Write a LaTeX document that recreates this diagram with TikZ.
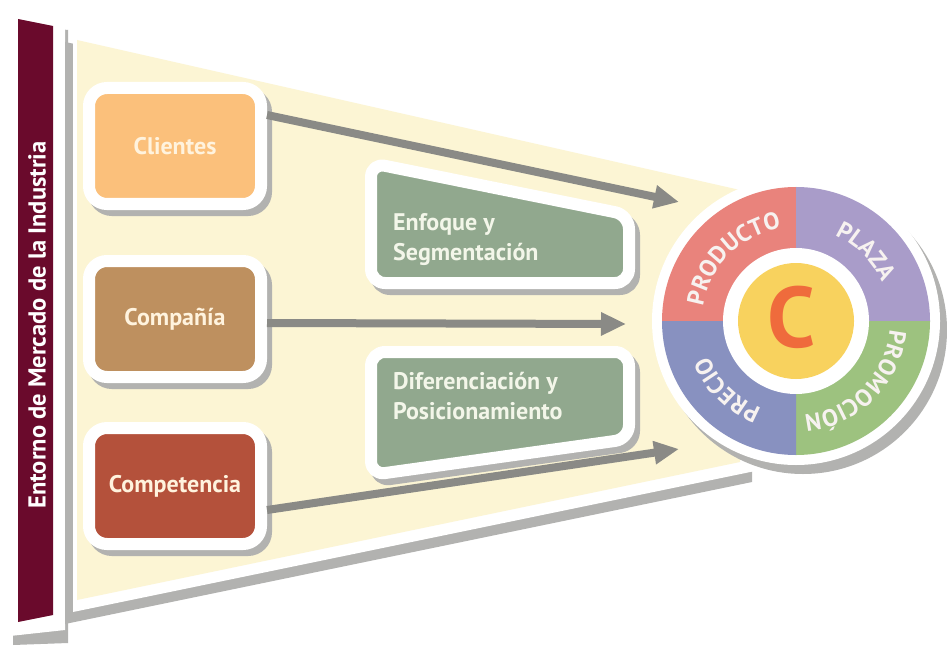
\documentclass[tikz,border=0pt]{standalone}
\usepackage{fontspec}
\setmainfont{PT Sans}
\usetikzlibrary{arrows.meta,shadows,decorations.text}
\definecolor{cMaroon}{HTML}{6A0A2C}
\definecolor{cShadow}{HTML}{B2B2B0}
\definecolor{cCream}{HTML}{FCF5D4}
\definecolor{cArrow}{HTML}{8A8A86}
\definecolor{cOrange}{HTML}{FBC07B}
\definecolor{cTan}{HTML}{BE905F}
\definecolor{cBrick}{HTML}{B4513B}
\definecolor{cBoxText}{HTML}{FFF3DE}
\definecolor{cGreen}{HTML}{91A88E}
\definecolor{cGreenText}{HTML}{F3F6E9}
\definecolor{cRed}{HTML}{E9837C}
\definecolor{cLav}{HTML}{A99CC9}
\definecolor{cLime}{HTML}{9DC27F}
\definecolor{cBlue}{HTML}{8891C0}
\definecolor{cYel}{HTML}{F8D25E}
\definecolor{cCee}{HTML}{EF6B3C}
\definecolor{cRingText}{HTML}{F7F2F0}
\begin{document}
\begin{tikzpicture}[x=1pt,y=-1pt,
  box/.style={draw=white, line width=12pt, rounded corners=18pt,
    minimum width=172pt, minimum height=116pt, inner sep=0pt,
    drop shadow={shadow xshift=5pt, shadow yshift=-6pt, draw=cShadow, line width=12pt, fill=cShadow, opacity=1},
    font=\fontsize{24}{28}\selectfont\bfseries, text=cBoxText},
  gshape/.style={fill=cGreen, draw=white, line width=12pt, rounded corners=14pt, line join=round},
  gshadow/.style={fill=cShadow, draw=cShadow, line width=12pt, rounded corners=14pt, line join=round},
  gtext/.style={anchor=north west, inner sep=0pt, align=left, text=cGreenText,
    font=\fontsize{24}{30}\selectfont\bfseries},
  arr/.style={draw=cArrow, line width=8pt, -{Triangle[length=25pt,width=22pt]}},
  ring/.style={decoration={text along path, text align=center, text={|\fontsize{24}{24}\selectfont\bfseries\color{cRingText}|#1}}, postaction={decorate}}
]
\useasboundingbox (0,0) rectangle (947,647);
\fill[white] (0,0) rectangle (947,647);

% side panel and bar
\fill[cShadow] (13,24) -- (68,30) -- (68,643) -- (13,645) -- cycle;
\fill[white] (10,12) -- (65,18) -- (65,630) -- (10,636) -- cycle;
\fill[cMaroon] (18,19) -- (53,26) -- (53,615) -- (18,622) -- cycle;
\node[rotate=90, text=white, inner sep=0pt, font=\fontsize{24.5}{24.5}\selectfont\bfseries] (env) at (37,325) {Entorno de Mercado de la Industria};

% fan
\fill[cShadow] (65,42) -- (752,184) -- (752,482) -- (65,624) -- cycle;
\fill[white] (73,29) -- (760,172) -- (760,470) -- (73,612) -- cycle;
\fill[cCream] (77,40) -- (740,190) -- (740,462) -- (77,600) -- cycle;

% green shapes
\path[gshadow] ([shift={(5,6)}]371,163) -- ([shift={(5,6)}]629,215) -- ([shift={(5,6)}]629,283) -- ([shift={(5,6)}]371,283) -- cycle;
\path[gshape] (371,163) -- (629,215) -- (629,283) -- (371,283) -- cycle;
\path[gshadow] ([shift={(5,6)}]371,352) -- ([shift={(5,6)}]629,352) -- ([shift={(5,6)}]629,439) -- ([shift={(5,6)}]371,475) -- cycle;
\path[gshape] (371,352) -- (629,352) -- (629,439) -- (371,475) -- cycle;
\node[gtext] (enf) at (393,213) {Enfoque y\\Segmentación};
\node[gtext] (dif) at (393,372) {Diferenciación y\\Posicionamiento};

% boxes
\node[box, fill=cOrange] (cli) at (175,146) {Clientes};
\node[box, fill=cTan] (cmp) at (175,319) {Compañía};
\node[box, fill=cBrick] (com) at (175,486) {Competencia};

% arrows
\coordinate (t1) at (679,202);
\coordinate (t2) at (626,324);
\coordinate (t3) at (679,449);
\draw[arr] (cli.east |- 0,115) -- (t1);
\draw[arr] (cmp.east |- 0,323) -- (t2);
\draw[arr] (com.east |- 0,510) -- (t3);

% marketing mix circle
\begin{scope}[shift={(796,321)}, y=1pt]
  \fill[cShadow] (7,-9) circle[radius=144];
  \fill[white] (0,0) circle[radius=144];
  \fill[cRed] (0,0) -- (180:134) arc[start angle=180, end angle=90, radius=134] -- cycle;
  \fill[cLav] (0,0) -- (90:134) arc[start angle=90, end angle=0, radius=134] -- cycle;
  \fill[cLime] (0,0) -- (0:134) arc[start angle=0, end angle=-90, radius=134] -- cycle;
  \fill[cBlue] (0,0) -- (-90:134) arc[start angle=-90, end angle=-180, radius=134] -- cycle;
  \fill[white] (0,0) circle[radius=73];
  \node[circle, fill=cYel, minimum size=116pt, inner sep=0pt] (core) at (0,0) {};
  \node[text=cCee, inner sep=0pt, font=\fontsize{86}{86}\selectfont\bfseries] (cee) at (-4,4) {C};
  \path[ring=PRODUCTO] (180:94) arc[start angle=180, end angle=90, radius=94];
  \path[ring=PLAZA] (90:94) arc[start angle=90, end angle=0, radius=94];
  \path[ring=PROMOCIÓN] (0:94) arc[start angle=0, end angle=-90, radius=94];
  \path[ring=PRECIO] (-90:94) arc[start angle=-90, end angle=-180, radius=94];
\end{scope}
\end{tikzpicture}
\end{document}
